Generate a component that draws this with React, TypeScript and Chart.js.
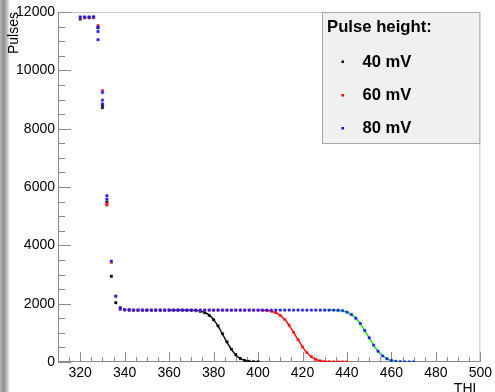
import React, { useEffect, useRef } from "react";
import { Chart, registerables } from "chart.js";

Chart.register(...registerables);

// THL values (x) shared by the measured series
const thl = [
  320, 322, 324, 326, 328, 330, 332, 334, 336, 338,
  340, 342, 344, 346, 348, 350, 352, 354, 356, 358,
  360, 362, 364, 366, 368, 370, 372, 374, 376, 378,
  380, 382, 384, 386, 388, 390, 392, 394, 396, 398,
  400, 402, 404, 406, 408, 410, 412, 414, 416, 418,
  420, 422, 424, 426, 428, 430, 432, 434, 436, 438,
  440, 442, 444, 446, 448, 450, 452, 454, 456, 458,
  460, 462, 464, 466, 468, 470,
];

const pulses40 = [
  11760, 11800, 11800, 11810, 11460, 8720, 5480, 2940, 2030, 1860,
  1790, 1785, 1780, 1780, 1780, 1780, 1780, 1780, 1780, 1780,
  1780, 1780, 1780, 1780, 1775, 1770, 1760, 1740, 1690, 1600,
  1450, 1240, 970, 690, 440, 250, 120, 55, 20, 8,
  3,
];

const pulses60 = [
  11800, 11820, 11820, 11830, 11530, 9300, 5430, 3420, 2250, 1810,
  1790, 1785, 1780, 1780, 1780, 1780, 1780, 1780, 1780, 1780,
  1780, 1780, 1780, 1780, 1780, 1780, 1780, 1780, 1780, 1780,
  1780, 1780, 1780, 1780, 1780, 1780, 1780, 1780, 1780, 1780,
  1778, 1775, 1765, 1740, 1690, 1600, 1460, 1260, 1020, 765,
  520, 320, 180, 90, 40, 16, 6, 2, 1, 0,
  0,
];

const pulses80 = [
  11830, 11830, 11830, 11830, 11480, 9240, 5700, 3460, 2260, 1820,
  1790, 1785, 1780, 1780, 1780, 1780, 1780, 1780, 1780, 1780,
  1780, 1780, 1780, 1780, 1780, 1780, 1780, 1780, 1780, 1780,
  1780, 1780, 1780, 1780, 1780, 1780, 1780, 1780, 1780, 1780,
  1780, 1780, 1780, 1780, 1780, 1780, 1780, 1780, 1780, 1780,
  1780, 1780, 1780, 1780, 1780, 1780, 1780, 1780, 1775, 1760,
  1710, 1630, 1500, 1320, 1080, 830, 580, 370, 210, 110,
  50, 20, 7, 2, 1, 0,
];

// repeated measurements at the same THL
const extraThl40 = [330];
const extraPulses40 = [8810];
const extraThl60 = [332];
const extraPulses60 = [5380];
const extraThl80 = [328, 328, 330, 330, 332];
const extraPulses80 = [11330, 11050, 8980, 8850, 5580];

// fitted curves
const fitThl40 = [360, 362, 364, 366, 368, 370, 372, 374, 376, 378, 380, 382, 384, 386, 388, 390, 392, 394, 396, 398, 400];
const fit40 = [1780, 1780, 1780, 1780, 1779, 1777, 1769, 1748, 1700, 1608, 1453, 1230, 961, 680, 431, 242, 119, 51, 19, 6, 2];
const fitThl60 = [400, 402, 404, 406, 408, 410, 412, 414, 416, 418, 420, 422, 424, 426, 428, 430, 432, 434, 436, 438, 440];
const fit60 = [1778, 1775, 1764, 1739, 1690, 1599, 1458, 1258, 1017, 763, 521, 322, 182, 90, 41, 16, 6, 2, 1, 0, 0];
const fitThl80 = [430, 432, 434, 436, 438, 440, 442, 444, 446, 448, 450, 452, 454, 456, 458, 460, 462, 464, 466, 468, 470];
const fit80 = [1780, 1779, 1776, 1767, 1747, 1706, 1626, 1497, 1315, 1079, 826, 580, 367, 212, 108, 50, 21, 7, 2, 1, 0];

const xTicks = [320, 340, 360, 380, 400, 420, 440, 460, 480, 500];
const yTicks = [0, 2000, 4000, 6000, 8000, 10000, 12000];
const seriesLabels = ["40 mV", "60 mV", "80 mV"];
const legendTitle = "Pulse height:";
const xTitle = "THL";
const yTitle = "Pulses";

const FONT = "'Liberation Sans', Arial, Helvetica, sans-serif";

function pts(xs: number[], ys: number[], exX: number[] = [], exY: number[] = []) {
  const out = ys.map((v, i) => ({ x: xs[i], y: v }));
  exX.forEach((x, i) => out.push({ x, y: exY[i] }));
  return out;
}

const rootPlugin = {
  id: "rootStyle",
  beforeDatasetsDraw(chart: any) {
    const { ctx, chartArea, scales } = chart;
    const { left, right, top, bottom } = chartArea;
    const xs = scales.x;
    const ys = scales.y;
    ctx.save();
    ctx.lineWidth = 1;
    ctx.strokeStyle = "#c6c6c6";
    ctx.beginPath();
    ctx.moveTo(left, top + 0.5);
    ctx.lineTo(right, top + 0.5);
    ctx.moveTo(right - 0.5, top);
    ctx.lineTo(right - 0.5, bottom);
    ctx.stroke();

    ctx.strokeStyle = "#8a8a8a";
    ctx.beginPath();
    ctx.moveTo(left + 0.5, top);
    ctx.lineTo(left + 0.5, bottom);
    ctx.moveTo(left, bottom - 0.5);
    ctx.lineTo(right, bottom - 0.5);
    // x ticks: major every 20, minor every 5
    for (let v = 310; v <= 500; v += 5) {
      const px = Math.round(xs.getPixelForValue(v)) + 0.5;
      const len = v % 20 === 0 ? 10 : 5;
      ctx.moveTo(px, bottom);
      ctx.lineTo(px, bottom - len);
    }
    // y ticks: major every 2000, minor every 500
    for (let v = 0; v <= 12000; v += 500) {
      const py = Math.round(ys.getPixelForValue(v)) + 0.5;
      const len = v % 2000 === 0 ? 13 : 7;
      ctx.moveTo(left, py);
      ctx.lineTo(left + len, py);
    }
    ctx.stroke();
    ctx.restore();
  },
  afterDraw(chart: any) {
    const { ctx, chartArea } = chart;
    const { right, top } = chartArea;
    ctx.save();
    // axis titles
    ctx.fillStyle = "#000";
    ctx.font = `14px ${FONT}`;
    ctx.textAlign = "right";
    ctx.textBaseline = "alphabetic";
    ctx.fillText(xTitle, right, 393);
    ctx.save();
    ctx.translate(17.5, top);
    ctx.rotate(-Math.PI / 2);
    ctx.fillText(yTitle, 0, 0);
    ctx.restore();

    // legend box
    const bx = 322.5, by = top + 0.5, bw = right - 0.5 - 322.5, bh = 131;
    ctx.fillStyle = "#f0f0f0";
    ctx.fillRect(bx, by, bw, bh);
    ctx.strokeStyle = "#a8a8a8";
    ctx.lineWidth = 1;
    ctx.strokeRect(bx, by, bw, bh);

    ctx.fillStyle = "#000";
    ctx.textAlign = "left";
    ctx.textBaseline = "middle";
    ctx.font = `bold 16.7px ${FONT}`;
    ctx.fillText(legendTitle, 327, 27.5);
    ctx.font = `bold 16.6px ${FONT}`;
    const colors = ["#000000", "#ff0000", "#0000ff"];
    const rows = [62, 95.5, 128.5];
    seriesLabels.forEach((lab, i) => {
      ctx.fillStyle = colors[i];
      ctx.fillRect(341.5, rows[i] - 1.5, 2.5, 2.5);
      ctx.fillStyle = "#000";
      ctx.fillText(lab, 362.5, rows[i]);
    });
    ctx.restore();
  },
};

function pointDs(label: string, data: any[], color: string, halo: string, order: number) {
  return {
    label,
    data,
    showLine: false,
    pointStyle: "rect",
    pointRadius: 1.7,
    pointBorderWidth: 1,
    pointBackgroundColor: color,
    pointBorderColor: halo,
    borderColor: color,
    backgroundColor: color,
    order,
  };
}

function fitDs(label: string, data: any[], color: string, order: number) {
  return {
    label,
    data,
    showLine: true,
    borderColor: color,
    backgroundColor: color,
    borderWidth: 1.4,
    pointRadius: 0,
    cubicInterpolationMode: "monotone",
    order,
  };
}

export default function App() {
  const ref = useRef<HTMLCanvasElement | null>(null);
  useEffect(() => {
    document.body.style.margin = "0";
    const canvas = ref.current;
    if (!canvas) return;
    const chart = new Chart(canvas, {
      type: "scatter",
      data: {
        datasets: [
          pointDs(seriesLabels[2], pts(thl, pulses80, extraThl80, extraPulses80), "#1010ff", "rgba(60,60,255,0.45)", 0),
          fitDs("fit 80", pts(fitThl80, fit80), "#00ee00", 1),
          pointDs(seriesLabels[1], pts(thl, pulses60, extraThl60, extraPulses60), "#ff0000", "rgba(255,60,60,0.45)", 2),
          fitDs("fit 60", pts(fitThl60, fit60), "#ff0000", 3),
          pointDs(seriesLabels[0], pts(thl, pulses40, extraThl40, extraPulses40), "#000000", "rgba(0,0,0,0.4)", 4),
          fitDs("fit 40", pts(fitThl40, fit40), "#000000", 5),
        ] as any,
      },
      options: {
        animation: false,
        responsive: true,
        maintainAspectRatio: false,
        layout: { padding: { top: 12, right: 13, left: 0, bottom: 0 } },
        plugins: { legend: { display: false }, tooltip: { enabled: false } },
        scales: {
          x: {
            type: "linear",
            min: 310,
            max: 500,
            grid: { display: false, drawTicks: false },
            border: { display: false },
            ticks: {
              font: { size: 14, family: FONT },
              color: "#000",
              padding: 3,
              maxRotation: 0,
              autoSkip: false,
              callback: (v: any) => String(v),
            },
            afterBuildTicks: (s: any) => { s.ticks = xTicks.map((v) => ({ value: v })); },
            afterFit: (s: any) => { s.height = 30; },
          },
          y: {
            type: "linear",
            min: 0,
            max: 12000,
            grid: { display: false, drawTicks: false },
            border: { display: false },
            ticks: {
              font: { size: 14, family: FONT },
              color: "#000",
              padding: 3,
              autoSkip: false,
              callback: (v: any) => String(v),
            },
            afterBuildTicks: (s: any) => { s.ticks = yTicks.map((v) => ({ value: v })); },
            afterFit: (s: any) => { s.width = 58; },
          },
        },
      } as any,
      plugins: [rootPlugin],
    });
    return () => chart.destroy();
  }, []);

  return (
    <div style={{ position: "relative", width: 495, height: 392, background: "#fff", overflow: "hidden" }}>
      <div
        style={{
          position: "absolute",
          left: 0,
          top: 0,
          width: 10,
          height: 392,
          background: "linear-gradient(to right, #b4b4b4 0px, #8e8e8e 4px, #bcbcbc 7px, #ffffff 10px)",
        }}
      />
      <canvas ref={ref} style={{ position: "absolute", left: 0, top: 0 }} />
    </div>
  );
}
